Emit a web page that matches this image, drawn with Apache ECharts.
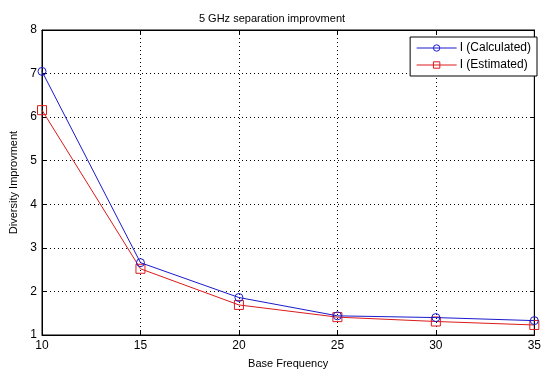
<!DOCTYPE html>
<html>
<head>
<meta charset="utf-8">
<script src="https://cdn.jsdelivr.net/npm/echarts@6/dist/echarts.min.js"></script>
<style>
  html, body { margin: 0; padding: 0; background: #fff; }
  #chart { width: 544px; height: 374px; }
</style>
</head>
<body>
<div id="chart"></div>
<script>
// Base frequency values and the two diversity improvement curves
const baseFrequency = [10, 15, 20, 25, 30, 35];
const calculated = [7.05, 2.66, 1.86, 1.44, 1.40, 1.33];
const estimated = [6.16, 2.52, 1.69, 1.41, 1.31, 1.23];

const xTicks = { min: 10, max: 35, interval: 5 };
const yTicks = { min: 1, max: 8, interval: 1 };

const FONT = 'Liberation Sans, Arial, sans-serif';

function pairs(xs, ys) {
  return xs.map((x, i) => [x, ys[i]]);
}

const dotted = { show: true, lineStyle: { color: '#000', type: [1, 3], width: 1 } };

const chart = echarts.init(document.getElementById('chart'), null, { renderer: 'canvas' });
chart.setOption({
  animation: false,
  backgroundColor: '#fff',
  title: {
    text: '5 GHz separation improvment',
    left: 'center',
    top: 8,
    textStyle: { fontFamily: FONT, fontSize: 11, fontWeight: 'normal', color: '#000' }
  },
  grid: {
    left: 42, right: 5, top: 30, bottom: 37,
    show: true, borderColor: '#000', borderWidth: 1, backgroundColor: '#fff'
  },
  legend: {
    right: 7, top: 37,
    orient: 'vertical',
    backgroundColor: '#fff',
    borderColor: '#000', borderWidth: 1, borderRadius: 0,
    padding: [5, 6, 5, 6],
    itemGap: 5,
    itemWidth: 40, itemHeight: 8,
    lineStyle: { width: 1 },
    itemStyle: { borderWidth: 1 },
    textStyle: { fontFamily: FONT, fontSize: 12, color: '#000', padding: [0, 0, 0, -2] },
    data: ['I (Calculated)', 'I (Estimated)']
  },
  xAxis: [{
    type: 'value',
    min: xTicks.min, max: xTicks.max, interval: xTicks.interval,
    name: 'Base Frequency', nameLocation: 'middle', nameGap: 23,
    nameTextStyle: { fontFamily: FONT, fontSize: 11, color: '#000' },
    axisLine: { show: true, lineStyle: { color: '#000' } },
    axisTick: { show: true, inside: true, length: 4, lineStyle: { color: '#000' } },
    axisLabel: { fontFamily: FONT, fontSize: 12, color: '#000', margin: 5 },
    splitLine: dotted
  }, {
    type: 'value', position: 'top',
    min: xTicks.min, max: xTicks.max, interval: xTicks.interval,
    axisLine: { show: true, lineStyle: { color: '#000' } },
    axisTick: { show: true, inside: true, length: 4, lineStyle: { color: '#000' } },
    axisLabel: { show: false }, splitLine: { show: false }
  }],
  yAxis: [{
    type: 'value',
    min: yTicks.min, max: yTicks.max, interval: yTicks.interval,
    name: 'Diversity Improvment', nameLocation: 'middle', nameGap: 19, nameRotate: 90,
    nameTextStyle: { fontFamily: FONT, fontSize: 11, color: '#000' },
    axisLine: { show: true, lineStyle: { color: '#000' } },
    axisTick: { show: true, inside: true, length: 4, lineStyle: { color: '#000' } },
    axisLabel: { fontFamily: FONT, fontSize: 12, color: '#000', margin: 5 },
    splitLine: dotted
  }, {
    type: 'value', position: 'right',
    min: yTicks.min, max: yTicks.max, interval: yTicks.interval,
    axisLine: { show: true, lineStyle: { color: '#000' } },
    axisTick: { show: true, inside: true, length: 4, lineStyle: { color: '#000' } },
    axisLabel: { show: false }, splitLine: { show: false }
  }],
  series: [{
    name: 'I (Calculated)',
    type: 'line',
    data: pairs(baseFrequency, calculated),
    symbol: 'circle', symbolSize: 8,
    lineStyle: { color: '#1a1acc', width: 1 },
    itemStyle: { color: 'rgba(255,255,255,0)', borderColor: '#1a1acc', borderWidth: 1 },
    z: 3
  }, {
    name: 'I (Estimated)',
    type: 'line',
    data: pairs(baseFrequency, estimated),
    symbol: 'rect', symbolSize: 9,
    lineStyle: { color: '#dd1a1a', width: 1 },
    itemStyle: { color: 'rgba(255,255,255,0)', borderColor: '#dd1a1a', borderWidth: 1 },
    z: 2
  }]
});
</script>
</body>
</html>
